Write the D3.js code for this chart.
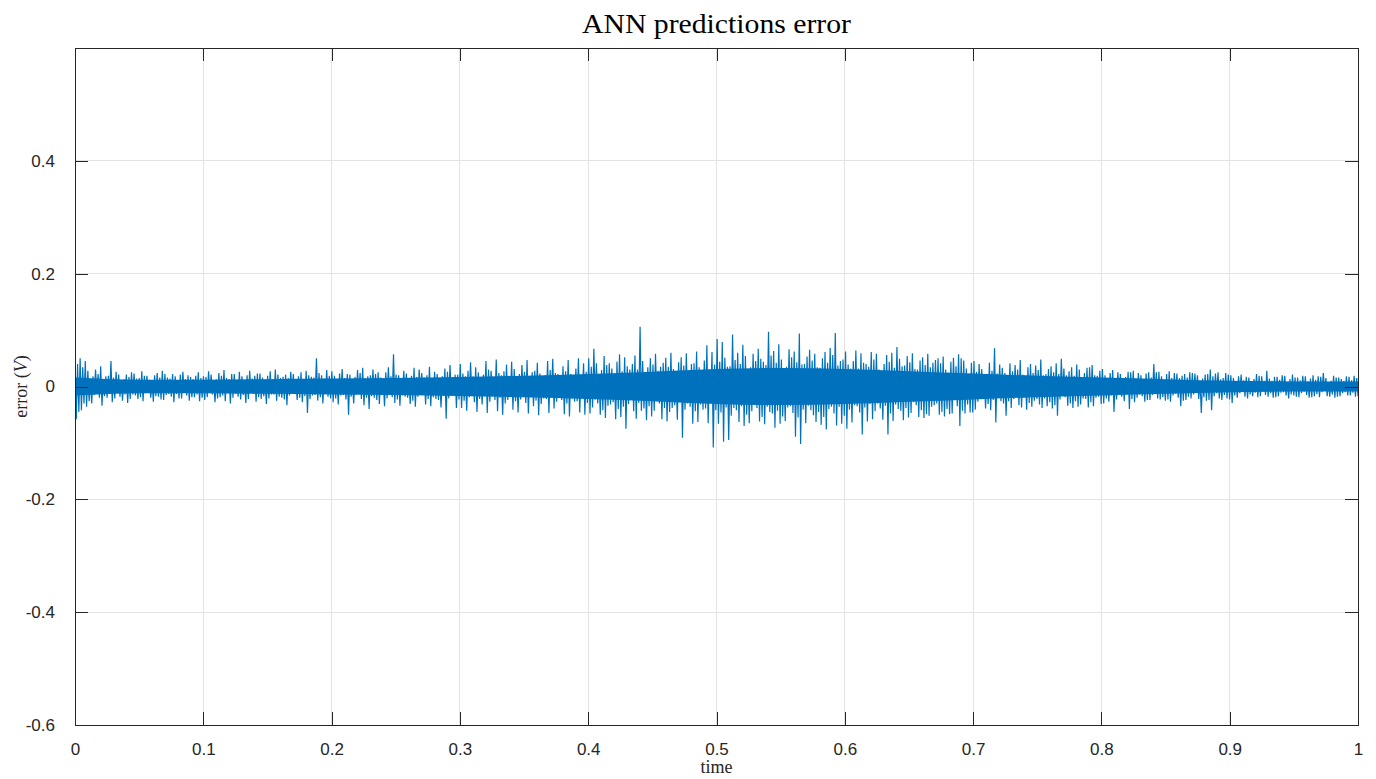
<!DOCTYPE html>
<html>
<head>
<meta charset="utf-8">
<script src="https://cdn.jsdelivr.net/npm/d3@7"></script>
<style>
  html, body { margin: 0; padding: 0; background: #ffffff; }
  svg { display: block; }
</style>
</head>
<body>
<svg id="chart" width="1376" height="779"></svg>
<script>
// ---------------- data ----------------
const titleText = "ANN predictions error";
const xLabelText = "time";
const xTicks = [0, 0.1, 0.2, 0.3, 0.4, 0.5, 0.6, 0.7, 0.8, 0.9, 1];
const xTickLabels = ["0", "0.1", "0.2", "0.3", "0.4", "0.5", "0.6", "0.7", "0.8", "0.9", "1"];
const yTicks = [-0.6, -0.4, -0.2, 0, 0.2, 0.4];
const yTickLabels = ["-0.6", "-0.4", "-0.2", "0", "0.2", "0.4"];
const xDomain = [0, 1];
const yDomain = [-0.6, 0.6];

// largest upward excursion in each 0.004 of time
const errHigh = [
  0.058,0.050,0.045,0.012,0.030,0.036,0.018,0.045,0.026,0.009,0.021,0.025,0.014,0.027,0.019,0.008,0.024,0.028,0.016,0.022,0.011,0.026,0.020,0.013,0.025,
  0.018,0.027,0.010,0.024,0.029,0.013,0.022,0.026,0.008,0.028,0.019,0.023,0.012,0.027,0.030,0.015,0.021,0.026,0.011,0.025,0.028,0.017,0.050,0.020,0.029,
  0.027,0.013,0.031,0.022,0.010,0.029,0.033,0.018,0.030,0.025,0.012,0.034,0.057,0.020,0.028,0.014,0.033,0.030,0.016,0.035,0.026,0.011,0.032,0.038,0.021,
  0.040,0.018,0.043,0.034,0.014,0.045,0.028,0.048,0.020,0.039,0.044,0.016,0.038,0.047,0.025,0.042,0.013,0.045,0.049,0.022,0.036,0.047,0.019,0.050,0.041,
  0.050,0.067,0.022,0.054,0.041,0.018,0.057,0.052,0.030,0.055,0.106,0.021,0.050,0.058,0.035,0.051,0.060,0.024,0.052,0.059,0.040,0.062,0.028,0.073,0.061,
  0.084,0.079,0.035,0.092,0.060,0.074,0.030,0.058,0.067,0.044,0.097,0.063,0.075,0.028,0.066,0.062,0.094,0.040,0.065,0.058,0.033,0.061,0.068,0.095,0.045,
  0.062,0.032,0.064,0.059,0.040,0.061,0.058,0.027,0.056,0.060,0.070,0.036,0.054,0.059,0.030,0.052,0.058,0.042,0.050,0.053,0.025,0.051,0.057,0.046,0.022,
  0.045,0.040,0.018,0.042,0.068,0.039,0.024,0.041,0.038,0.047,0.016,0.040,0.037,0.048,0.022,0.036,0.041,0.049,0.020,0.034,0.039,0.014,0.033,0.038,0.019,
  0.031,0.014,0.029,0.025,0.011,0.026,0.028,0.024,0.012,0.025,0.040,0.026,0.010,0.027,0.024,0.015,0.022,0.025,0.023,0.009,0.021,0.030,0.023,0.013,0.024,
  0.020,0.009,0.021,0.017,0.008,0.022,0.018,0.028,0.010,0.017,0.020,0.007,0.021,0.016,0.019,0.009,0.020,0.018,0.024,0.008,0.019,0.016,0.010,0.017,0.019
];
// largest downward excursion in each 0.004 of time
const errLow = [
  -0.058,-0.042,-0.036,-0.030,-0.012,-0.034,-0.020,-0.028,-0.010,-0.025,-0.029,-0.014,-0.022,-0.026,-0.009,-0.027,-0.018,-0.024,-0.013,-0.028,-0.021,-0.011,-0.025,-0.019,-0.026,
  -0.024,-0.011,-0.028,-0.019,-0.026,-0.030,-0.013,-0.023,-0.029,-0.010,-0.027,-0.022,-0.031,-0.014,-0.025,-0.020,-0.033,-0.012,-0.024,-0.028,-0.047,-0.016,-0.025,-0.030,-0.018,
  -0.028,-0.032,-0.015,-0.050,-0.030,-0.012,-0.033,-0.040,-0.020,-0.031,-0.035,-0.014,-0.029,-0.034,-0.018,-0.031,-0.036,-0.013,-0.032,-0.035,-0.022,-0.037,-0.057,-0.016,-0.038,
  -0.038,-0.043,-0.017,-0.045,-0.032,-0.047,-0.015,-0.044,-0.050,-0.024,-0.041,-0.046,-0.014,-0.048,-0.035,-0.051,-0.021,-0.047,-0.039,-0.016,-0.049,-0.053,-0.027,-0.046,-0.050,
  -0.048,-0.023,-0.050,-0.056,-0.032,-0.058,-0.054,-0.075,-0.020,-0.057,-0.043,-0.060,-0.053,-0.026,-0.058,-0.062,-0.038,-0.059,-0.091,-0.030,-0.066,-0.063,-0.041,-0.065,-0.108,
  -0.066,-0.098,-0.095,-0.038,-0.063,-0.070,-0.065,-0.032,-0.062,-0.067,-0.045,-0.073,-0.066,-0.061,-0.035,-0.089,-0.102,-0.065,-0.042,-0.063,-0.068,-0.076,-0.036,-0.069,-0.066,
  -0.075,-0.064,-0.035,-0.085,-0.062,-0.058,-0.030,-0.059,-0.085,-0.061,-0.040,-0.060,-0.055,-0.028,-0.054,-0.056,-0.052,-0.033,-0.050,-0.053,-0.049,-0.024,-0.070,-0.048,-0.046,
  -0.041,-0.020,-0.039,-0.042,-0.064,-0.026,-0.052,-0.038,-0.017,-0.037,-0.041,-0.036,-0.022,-0.038,-0.035,-0.039,-0.052,-0.015,-0.034,-0.038,-0.036,-0.021,-0.037,-0.035,-0.018,
  -0.030,-0.027,-0.045,-0.012,-0.026,-0.040,-0.028,-0.014,-0.027,-0.024,-0.011,-0.023,-0.025,-0.027,-0.013,-0.035,-0.024,-0.021,-0.010,-0.047,-0.025,-0.042,-0.012,-0.024,-0.021,
  -0.029,-0.020,-0.009,-0.021,-0.017,-0.019,-0.008,-0.018,-0.020,-0.017,-0.010,-0.021,-0.016,-0.019,-0.009,-0.020,-0.017,-0.019,-0.008,-0.018,-0.020,-0.017,-0.010,-0.016,-0.018
];
// secondary (smaller) upward excursion in each 0.004 of time
const errHigh2 = [
  0.040,0.034,0.028,0.018,0.022,0.012,0.019,0.016,0.021,0.013,0.017,0.023,0.015,0.019,0.012,0.020,0.016,0.022,0.014,0.018,0.021,0.013,0.017,0.019,0.015,
  0.017,0.021,0.013,0.019,0.015,0.022,0.012,0.018,0.020,0.014,0.023,0.016,0.019,0.013,0.021,0.017,0.015,0.022,0.018,0.012,0.020,0.016,0.024,0.014,0.019,
  0.019,0.023,0.015,0.021,0.017,0.024,0.014,0.020,0.022,0.016,0.025,0.018,0.021,0.015,0.023,0.019,0.017,0.024,0.020,0.014,0.022,0.018,0.026,0.016,0.021,
  0.023,0.028,0.018,0.025,0.021,0.030,0.017,0.024,0.027,0.019,0.031,0.022,0.026,0.018,0.028,0.023,0.020,0.029,0.024,0.017,0.027,0.022,0.032,0.019,0.026,
  0.035,0.041,0.029,0.038,0.032,0.044,0.027,0.036,0.040,0.030,0.045,0.034,0.039,0.028,0.042,0.035,0.031,0.043,0.037,0.027,0.041,0.034,0.046,0.030,0.039,
  0.044,0.051,0.036,0.047,0.040,0.054,0.034,0.045,0.049,0.038,0.055,0.042,0.048,0.035,0.052,0.043,0.039,0.053,0.046,0.034,0.050,0.042,0.056,0.037,0.048,
  0.039,0.045,0.032,0.042,0.035,0.048,0.030,0.040,0.044,0.033,0.049,0.037,0.043,0.031,0.046,0.038,0.034,0.047,0.041,0.030,0.044,0.036,0.050,0.032,0.042,
  0.026,0.031,0.020,0.028,0.023,0.033,0.019,0.027,0.030,0.021,0.034,0.024,0.029,0.020,0.031,0.025,0.022,0.032,0.027,0.019,0.030,0.024,0.034,0.020,0.028,
  0.020,0.024,0.015,0.022,0.017,0.025,0.014,0.020,0.023,0.016,0.025,0.018,0.022,0.015,0.023,0.019,0.016,0.024,0.020,0.014,0.022,0.018,0.025,0.015,0.021,
  0.015,0.018,0.011,0.016,0.013,0.019,0.010,0.014,0.017,0.012,0.019,0.013,0.016,0.011,0.018,0.014,0.012,0.017,0.015,0.010,0.016,0.013,0.018,0.011,0.015
];
// secondary (smaller) downward excursion in each 0.004 of time
const errLow2 = [
  -0.045,-0.030,-0.026,-0.015,-0.020,-0.017,-0.013,-0.021,-0.018,-0.014,-0.022,-0.016,-0.019,-0.012,-0.020,-0.017,-0.023,-0.015,-0.018,-0.013,-0.021,-0.016,-0.019,-0.014,-0.020,
  -0.019,-0.014,-0.021,-0.016,-0.012,-0.020,-0.018,-0.015,-0.022,-0.013,-0.019,-0.017,-0.021,-0.014,-0.018,-0.023,-0.016,-0.012,-0.020,-0.017,-0.022,-0.015,-0.019,-0.013,-0.021,
  -0.021,-0.016,-0.023,-0.018,-0.014,-0.022,-0.020,-0.017,-0.024,-0.015,-0.021,-0.019,-0.023,-0.016,-0.020,-0.025,-0.018,-0.014,-0.022,-0.019,-0.024,-0.017,-0.021,-0.015,-0.023,
  -0.025,-0.019,-0.028,-0.022,-0.017,-0.027,-0.024,-0.020,-0.030,-0.018,-0.026,-0.023,-0.029,-0.019,-0.025,-0.031,-0.022,-0.017,-0.027,-0.024,-0.030,-0.021,-0.026,-0.018,-0.029,
  -0.037,-0.030,-0.042,-0.034,-0.028,-0.040,-0.036,-0.031,-0.044,-0.029,-0.039,-0.035,-0.043,-0.030,-0.038,-0.045,-0.033,-0.027,-0.041,-0.036,-0.044,-0.032,-0.039,-0.029,-0.042,
  -0.046,-0.037,-0.052,-0.042,-0.035,-0.050,-0.044,-0.038,-0.054,-0.036,-0.048,-0.043,-0.053,-0.037,-0.047,-0.055,-0.041,-0.034,-0.051,-0.045,-0.054,-0.040,-0.048,-0.036,-0.052,
  -0.041,-0.033,-0.046,-0.037,-0.031,-0.044,-0.039,-0.034,-0.048,-0.032,-0.043,-0.038,-0.047,-0.033,-0.042,-0.049,-0.036,-0.030,-0.045,-0.040,-0.048,-0.035,-0.043,-0.032,-0.046,
  -0.027,-0.021,-0.031,-0.024,-0.019,-0.030,-0.026,-0.022,-0.033,-0.020,-0.029,-0.025,-0.032,-0.021,-0.028,-0.033,-0.023,-0.019,-0.030,-0.026,-0.032,-0.022,-0.028,-0.020,-0.031,
  -0.021,-0.016,-0.023,-0.018,-0.014,-0.022,-0.020,-0.017,-0.024,-0.015,-0.021,-0.019,-0.023,-0.016,-0.020,-0.025,-0.018,-0.014,-0.022,-0.019,-0.024,-0.017,-0.021,-0.015,-0.023,
  -0.016,-0.012,-0.018,-0.014,-0.011,-0.017,-0.015,-0.012,-0.019,-0.011,-0.016,-0.014,-0.018,-0.012,-0.015,-0.019,-0.013,-0.010,-0.017,-0.014,-0.018,-0.012,-0.016,-0.011,-0.017
];
// half-width of the visually solid core of the signal
const coreTime = [0, 0.05, 0.1, 0.15, 0.2, 0.25, 0.3, 0.35, 0.4, 0.45, 0.5, 0.55, 0.6, 0.65, 0.7, 0.75, 0.8, 0.85, 0.9, 0.95, 1.0];
const coreHalf = [0.016, 0.012, 0.012, 0.013, 0.014, 0.015, 0.017, 0.019, 0.022, 0.026, 0.031, 0.033, 0.031, 0.027, 0.023, 0.019, 0.016, 0.013, 0.010, 0.009, 0.009];

// ---------------- layout ----------------
const m = { left: 75, right: 1358, top: 48, bottom: 725 };
const blue = "#0072BD";
const axisColor = "#262626";
const gridColor = "#e3e3e3";
const tickLen = 13;

const svg = d3.select("#chart");
const x = d3.scaleLinear().domain(xDomain).range([m.left, m.right]);
const y = d3.scaleLinear().domain(yDomain).range([m.bottom, m.top]);

svg.append("defs").append("clipPath").attr("id", "plotClip")
  .append("rect").attr("x", m.left).attr("y", m.top)
  .attr("width", m.right - m.left).attr("height", m.bottom - m.top);

// grid
const grid = svg.append("g");
grid.selectAll("line.gx").data(xTicks.filter(v => v > xDomain[0] && v < xDomain[1]))
  .join("line").attr("x1", d => x(d)).attr("x2", d => x(d))
  .attr("y1", m.top).attr("y2", m.bottom)
  .attr("stroke", gridColor).attr("stroke-width", 1).attr("shape-rendering", "crispEdges");
grid.selectAll("line.gy").data(yTicks.filter(v => v > yDomain[0] && v < yDomain[1]))
  .join("line").attr("y1", d => y(d)).attr("y2", d => y(d))
  .attr("x1", m.left).attr("x2", m.right)
  .attr("stroke", gridColor).attr("stroke-width", 1).attr("shape-rendering", "crispEdges");

// signal: for each time slice the trace visits its excursions in turn
const n = errHigh.length;
const pts = [];
for (let i = 0; i < n; i++) {
  pts.push(errHigh[i], errLow[i], errHigh2[i], errLow2[i]);
}
const seq = pts.map((v, k) => ({ t: k / (pts.length - 1), v }));
const plot = svg.append("g").attr("clip-path", "url(#plotClip)");

const coreData = coreTime.map((t, i) => ({ t, a: coreHalf[i] }));
plot.append("path").datum(coreData)
  .attr("fill", blue)
  .attr("d", d3.area().x(d => x(d.t)).y0(d => y(-d.a)).y1(d => y(d.a)).curve(d3.curveMonotoneX));

plot.append("path").datum(seq)
  .attr("fill", "none").attr("stroke", blue).attr("stroke-width", 1.2)
  .attr("stroke-linejoin", "miter")
  .attr("d", d3.line().x(d => x(d.t)).y(d => y(d.v)));

// axes (MATLAB style: box, inward ticks on all sides)
const axG = svg.append("g");
const xAxB = d3.axisBottom(x).tickValues(xTicks).tickSizeInner(-tickLen).tickSizeOuter(0)
  .tickFormat((d, i) => xTickLabels[i]).tickPadding(18);
const gxb = axG.append("g").attr("transform", `translate(0,${m.bottom})`).call(xAxB);
const xAxT = d3.axisTop(x).tickValues(xTicks).tickSizeInner(-tickLen).tickSizeOuter(0).tickFormat("");
const gxt = axG.append("g").attr("transform", `translate(0,${m.top})`).call(xAxT);
const yAxL = d3.axisLeft(y).tickValues(yTicks).tickSizeInner(-tickLen).tickSizeOuter(0)
  .tickFormat((d, i) => yTickLabels[i]).tickPadding(20);
const gyl = axG.append("g").attr("transform", `translate(${m.left},0)`).call(yAxL);
const yAxR = d3.axisRight(y).tickValues(yTicks).tickSizeInner(-tickLen).tickSizeOuter(0).tickFormat("");
const gyr = axG.append("g").attr("transform", `translate(${m.right},0)`).call(yAxR);

[gxb, gxt, gyl, gyr].forEach(g => {
  g.select(".domain").remove();
  g.selectAll(".tick line").attr("stroke", axisColor).attr("stroke-width", 1).attr("shape-rendering", "crispEdges");
  g.selectAll(".tick text").attr("fill", axisColor)
    .style("font-family", "'Liberation Sans', Arial, Helvetica, sans-serif")
    .style("font-size", "17px");
});

svg.append("rect").attr("x", m.left).attr("y", m.top)
  .attr("width", m.right - m.left).attr("height", m.bottom - m.top)
  .attr("fill", "none").attr("stroke", axisColor).attr("stroke-width", 1).attr("shape-rendering", "crispEdges");

// title and labels
svg.append("text").attr("x", (m.left + m.right) / 2).attr("y", 33)
  .attr("text-anchor", "middle").attr("fill", "#000")
  .attr("textLength", 269).attr("lengthAdjust", "spacingAndGlyphs")
  .style("font-family", "'Liberation Serif', 'DejaVu Serif', serif").style("font-size", "27px")
  .text(titleText);

svg.append("text").attr("x", (m.left + m.right) / 2).attr("y", 773)
  .attr("text-anchor", "middle").attr("fill", "#262626")
  .style("font-family", "'Liberation Serif', 'DejaVu Serif', serif").style("font-size", "18px")
  .text(xLabelText);

const yl = svg.append("text").attr("transform", `translate(27,${(m.top + m.bottom) / 2}) rotate(-90)`)
  .attr("text-anchor", "middle").attr("fill", "#262626")
  .style("font-family", "'Liberation Serif', 'DejaVu Serif', serif").style("font-size", "18px");
yl.append("tspan").text("error (");
yl.append("tspan").style("font-style", "italic").text("V");
yl.append("tspan").text(")");
</script>
</body>
</html>
